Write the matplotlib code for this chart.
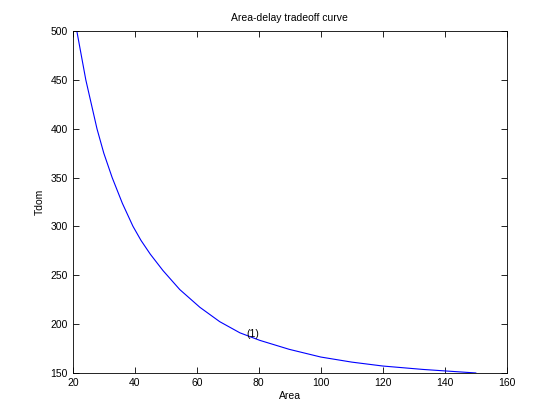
import matplotlib
matplotlib.use('Agg')
import matplotlib.pyplot as plt

# Values:
area = [21.3, 24.2, 27.8, 30, 32.7, 36, 39.4, 42, 45, 49.1, 54.5, 61.0,
        67.4, 73.9, 80.3, 89.8, 100, 110, 120, 133, 140, 150]
tdom = [500, 450, 400, 375, 350, 323.6, 300.2, 285.7, 271.6, 254.8, 235.4, 217.2,
        202.5, 191.1, 183.4, 174.2, 166.3, 161.1, 157.1, 153.6, 152.1, 150]

label_pos = (76, 190)
label_text = '(1)'

xticks = [20, 40, 60, 80, 100, 120, 140, 160]
yticks = [150, 200, 250, 300, 350, 400, 450, 500]

plt.rcParams['font.family'] = ['Liberation Sans', 'DejaVu Sans']
plt.rcParams['font.size'] = 7.5

fig = plt.figure(figsize=(5.6, 4.2), dpi=100)
ax = fig.add_axes([0.13, 0.112, 0.775, 0.814])
ax.plot(area, tdom, color='blue', linewidth=0.8)
ax.text(label_pos[0], label_pos[1], label_text, ha='left', va='center')

ax.set_xlim(20, 160)
ax.set_ylim(150, 500)
ax.set_xticks(xticks)
ax.set_yticks(yticks)
ax.tick_params(direction='in', top=True, right=True, length=4, width=0.6)
for s in ax.spines.values():
    s.set_linewidth(0.6)

ax.set_xlabel('Area', labelpad=2)
ax.set_ylabel('Tdom', labelpad=4)
ax.set_title('Area-delay tradeoff curve', fontsize=7.5, pad=7)

fig.savefig('out.png', dpi=100)
